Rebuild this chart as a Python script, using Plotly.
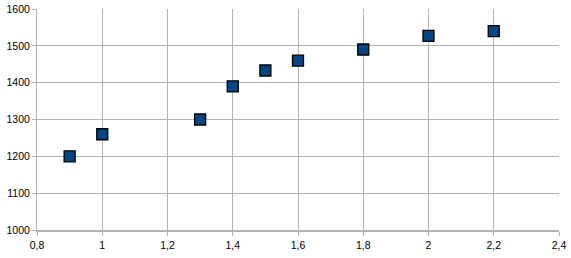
import plotly.graph_objects as go

x_vals = [0.9, 1.0, 1.3, 1.4, 1.5, 1.6, 1.8, 2.0, 2.2]
y_vals = [1200, 1260, 1300, 1390, 1433, 1460, 1490, 1527, 1540]

fig = go.Figure(go.Scatter(
    x=x_vals, y=y_vals, mode="markers",
    marker=dict(symbol="square", size=11, color="#004586",
                line=dict(color="#000000", width=1.3)),
))

grid = "#b3b3b3"
fig.update_layout(
    width=571, height=258,
    margin=dict(l=37, r=12, t=9, b=28, autoexpand=False),
    paper_bgcolor="white", plot_bgcolor="white",
    separators=", ",
    showlegend=False,
    font=dict(family="Liberation Sans, Arial, sans-serif", size=10.5, color="#000000"),
    xaxis=dict(range=[0.8, 2.4], dtick=0.2, tick0=0.8, showgrid=True, gridcolor=grid, gridwidth=1,
               zeroline=False, showline=True, linecolor=grid, linewidth=2, mirror=False,
               ticks="outside", ticklen=4, tickcolor=grid, tickformat=".1~f", automargin=False),
    yaxis=dict(range=[1000, 1600], dtick=100, showgrid=True, gridcolor=grid, gridwidth=1,
               zeroline=False, showline=True, linecolor=grid, linewidth=1,
               ticks="outside", ticklen=4, tickcolor=grid, automargin=False),
)
fig.write_html("out.html")
